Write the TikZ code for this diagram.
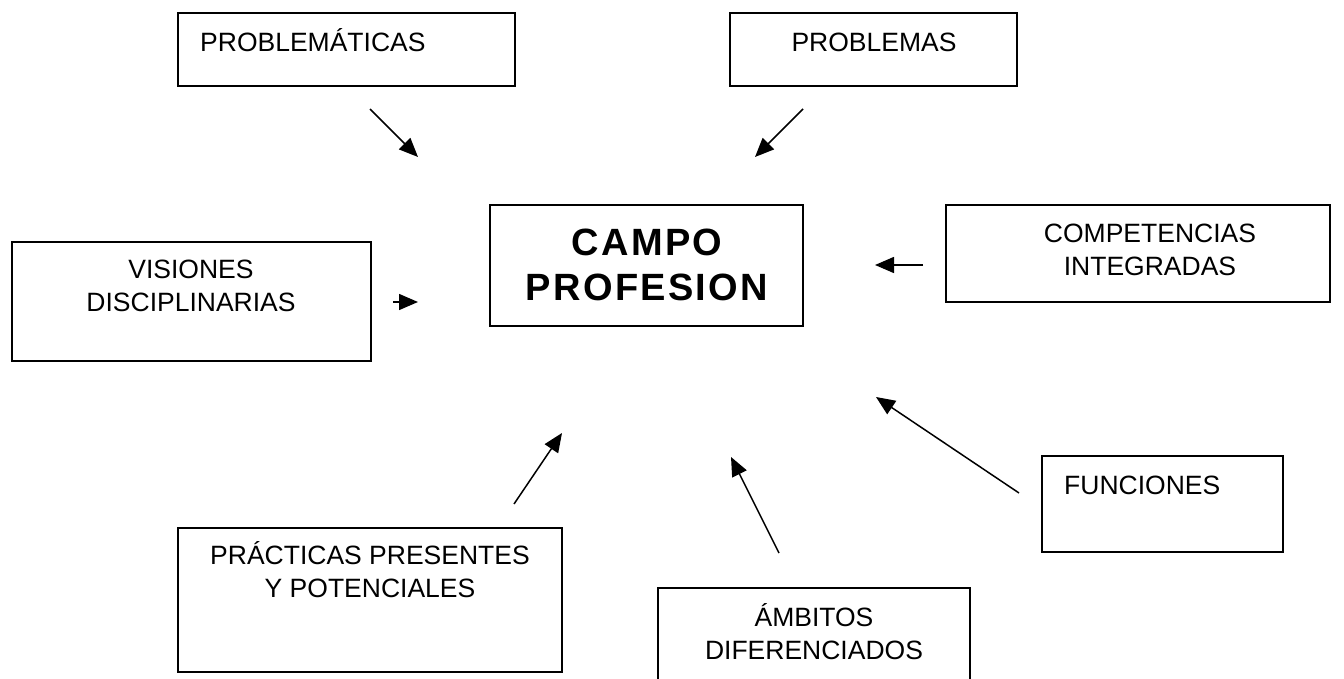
\documentclass[tikz,border=0pt]{standalone}
\usepackage{fontspec}
\setmainfont{Liberation Sans}
\usepackage{tikz}
\usetikzlibrary{positioning,arrows.meta}

\begin{document}
\begin{tikzpicture}[x = 1pt, y = -1pt,
  box/.style = {draw, line width = 1.6pt, inner sep = 0pt},
  txt/.style = {inner sep = 0pt, align = center, font = \fontsize{26.5}{32.5}\selectfont},
  big/.style = {inner sep = 0pt, align = center, font = \fontsize{38}{45}\selectfont\bfseries\addfontfeatures{LetterSpace=6}},
  >={Triangle[length=19pt, width=16pt]}]
\useasboundingbox (0,0) rectangle (1344,679);
\node[box, minimum width = 337, minimum height = 73] (probm) at (346.5,49.5) {};
\node[txt, anchor = base west] (probmtxt) at (200,52) {PROBLEMÁTICAS};
\node[box, minimum width = 287, minimum height = 73] (probl) at (873.5,49.5) {};
\node[txt, anchor = base] (probltxt) at (874,52) {PROBLEMAS};
\node[box, minimum width = 313, minimum height = 121] (campo) at (646.5,265.5) {};
\node[big, anchor = base] (campotxt) at (647,300) {CAMPO\\PROFESION};
\node[box, minimum width = 359, minimum height = 119] (vis) at (191.5,301.5) {};
\node[txt, anchor = base] (vistxt) at (191,311) {VISIONES\\DISCIPLINARIAS};
\node[box, minimum width = 384, minimum height = 97] (comp) at (1138,253.5) {};
\node[txt, anchor = base] (comptxt) at (1150,275) {COMPETENCIAS\\INTEGRADAS};
\node[box, minimum width = 241, minimum height = 96] (func) at (1162.5,504) {};
\node[txt, anchor = base west] (functxt) at (1064,494) {FUNCIONES};
\node[box, minimum width = 384, minimum height = 144] (prac) at (370,600) {};
\node[txt, anchor = base] (practxt) at (370,597) {PRÁCTICAS PRESENTES\\Y POTENCIALES};
\node[box, minimum width = 312, minimum height = 112] (ambi) at (814,644) {};
\node[txt, anchor = base] (ambitxt) at (814,659) {ÁMBITOS\\DIFERENCIADOS};
\coordinate (a1) at (370,109); \coordinate (b1) at (418,157);
\coordinate (a2) at (803,109); \coordinate (b2) at (755,157);
\coordinate (a3) at (393,302); \coordinate (b3) at (418,302);
\coordinate (a4) at (923,265); \coordinate (b4) at (875,265);
\coordinate (a5) at (1019,493); \coordinate (b5) at (876,397);
\coordinate (a6) at (514,504); \coordinate (b6) at (562,433);
\coordinate (a7) at (779,553); \coordinate (b7) at (731,457);
\foreach \i in {1,...,7}
  \draw[->, line width = 1.5pt] (a\i) -- (b\i);
\end{tikzpicture}
\end{document}
